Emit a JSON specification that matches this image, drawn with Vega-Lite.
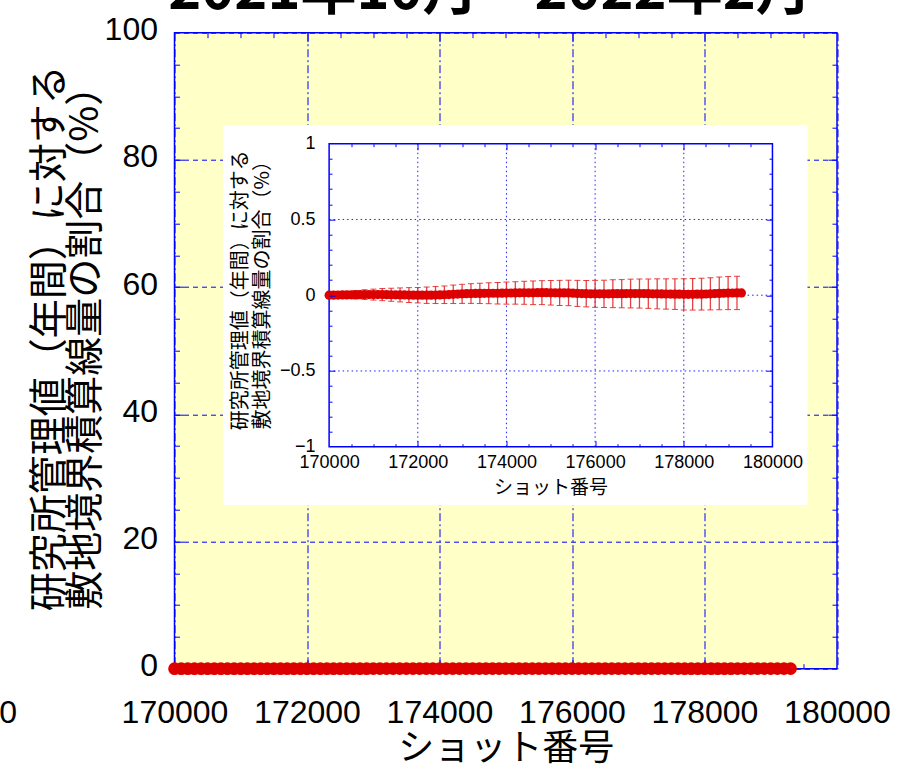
{
  "$schema": "https://vega.github.io/schema/vega-lite/v6.json",
  "width": 662.5,
  "height": 636,
  "autosize": {"type": "none"},
  "padding": {"left": 174.5, "top": 32.7, "right": 66, "bottom": 99.3},
  "background": "white",
  "config": {
    "view": {"fill": "#ffffc8", "stroke": "#0000ff", "strokeWidth": 1.5},
    "axis": {"domain": false, "zindex": 0}
  },
  "datasets": {
    "pts": [
      {"shot": 170000, "pct": 0.000, "err": 0.004},
      {"shot": 170100, "pct": 0.0005},
      {"shot": 170200, "pct": 0.001, "err": 0.016},
      {"shot": 170300, "pct": 0.0015},
      {"shot": 170400, "pct": 0.002, "err": 0.023},
      {"shot": 170500, "pct": 0.0025},
      {"shot": 170600, "pct": 0.003, "err": 0.028},
      {"shot": 170700, "pct": 0.0035},
      {"shot": 170800, "pct": 0.004, "err": 0.032},
      {"shot": 170900, "pct": 0.004},
      {"shot": 171000, "pct": 0.004, "err": 0.036},
      {"shot": 171100, "pct": 0.004},
      {"shot": 171200, "pct": 0.004, "err": 0.040},
      {"shot": 171300, "pct": 0.0035},
      {"shot": 171400, "pct": 0.003, "err": 0.043},
      {"shot": 171500, "pct": 0.0025},
      {"shot": 171600, "pct": 0.002, "err": 0.046},
      {"shot": 171700, "pct": 0.0015},
      {"shot": 171800, "pct": 0.001, "err": 0.049},
      {"shot": 171900, "pct": 0.0005},
      {"shot": 172000, "pct": 0.000, "err": 0.051},
      {"shot": 172100, "pct": 0.000},
      {"shot": 172200, "pct": 0.000, "err": 0.054},
      {"shot": 172300, "pct": 0.0005},
      {"shot": 172400, "pct": 0.001, "err": 0.056},
      {"shot": 172500, "pct": 0.002},
      {"shot": 172600, "pct": 0.003, "err": 0.058},
      {"shot": 172700, "pct": 0.0045},
      {"shot": 172800, "pct": 0.006, "err": 0.061},
      {"shot": 172900, "pct": 0.0075},
      {"shot": 173000, "pct": 0.009, "err": 0.063},
      {"shot": 173100, "pct": 0.010},
      {"shot": 173200, "pct": 0.011, "err": 0.065},
      {"shot": 173300, "pct": 0.0115},
      {"shot": 173400, "pct": 0.012, "err": 0.067},
      {"shot": 173500, "pct": 0.0125},
      {"shot": 173600, "pct": 0.013, "err": 0.069},
      {"shot": 173700, "pct": 0.013},
      {"shot": 173800, "pct": 0.013, "err": 0.071},
      {"shot": 173900, "pct": 0.0135},
      {"shot": 174000, "pct": 0.014, "err": 0.073},
      {"shot": 174100, "pct": 0.0145},
      {"shot": 174200, "pct": 0.015, "err": 0.074},
      {"shot": 174300, "pct": 0.0155},
      {"shot": 174400, "pct": 0.016, "err": 0.076},
      {"shot": 174500, "pct": 0.016},
      {"shot": 174600, "pct": 0.016, "err": 0.078},
      {"shot": 174700, "pct": 0.0165},
      {"shot": 174800, "pct": 0.017, "err": 0.079},
      {"shot": 174900, "pct": 0.0165},
      {"shot": 175000, "pct": 0.016, "err": 0.081},
      {"shot": 175100, "pct": 0.0155},
      {"shot": 175200, "pct": 0.015, "err": 0.083},
      {"shot": 175300, "pct": 0.015},
      {"shot": 175400, "pct": 0.015, "err": 0.084},
      {"shot": 175500, "pct": 0.0135},
      {"shot": 175600, "pct": 0.012, "err": 0.086},
      {"shot": 175700, "pct": 0.011},
      {"shot": 175800, "pct": 0.010, "err": 0.087},
      {"shot": 175900, "pct": 0.0095},
      {"shot": 176000, "pct": 0.009, "err": 0.089},
      {"shot": 176100, "pct": 0.009},
      {"shot": 176200, "pct": 0.009, "err": 0.090},
      {"shot": 176300, "pct": 0.0095},
      {"shot": 176400, "pct": 0.010, "err": 0.092},
      {"shot": 176500, "pct": 0.010},
      {"shot": 176600, "pct": 0.010, "err": 0.093},
      {"shot": 176700, "pct": 0.0105},
      {"shot": 176800, "pct": 0.011, "err": 0.095},
      {"shot": 176900, "pct": 0.011},
      {"shot": 177000, "pct": 0.011, "err": 0.096},
      {"shot": 177100, "pct": 0.0105},
      {"shot": 177200, "pct": 0.010, "err": 0.097},
      {"shot": 177300, "pct": 0.0095},
      {"shot": 177400, "pct": 0.009, "err": 0.099},
      {"shot": 177500, "pct": 0.0085},
      {"shot": 177600, "pct": 0.008, "err": 0.100},
      {"shot": 177700, "pct": 0.0075},
      {"shot": 177800, "pct": 0.007, "err": 0.101},
      {"shot": 177900, "pct": 0.0065},
      {"shot": 178000, "pct": 0.006, "err": 0.103},
      {"shot": 178100, "pct": 0.006},
      {"shot": 178200, "pct": 0.006, "err": 0.104},
      {"shot": 178300, "pct": 0.0065},
      {"shot": 178400, "pct": 0.007, "err": 0.105},
      {"shot": 178500, "pct": 0.008},
      {"shot": 178600, "pct": 0.009, "err": 0.106},
      {"shot": 178700, "pct": 0.0105},
      {"shot": 178800, "pct": 0.012, "err": 0.108},
      {"shot": 178900, "pct": 0.013},
      {"shot": 179000, "pct": 0.014, "err": 0.109},
      {"shot": 179100, "pct": 0.0145},
      {"shot": 179200, "pct": 0.015, "err": 0.110},
      {"shot": 179300, "pct": 0.015}
    ],
    "wbox": [{"x1": 167607, "x2": 180790, "y1": -1.385, "y2": 1.1234}],
    "frame": [{"x1": 170000, "x2": 180000, "y1": -1, "y2": 1}],
    "vgrid": [
      {"gx": 172000, "gy1": -1, "gy2": 1},
      {"gx": 174000, "gy1": -1, "gy2": 1},
      {"gx": 176000, "gy1": -1, "gy2": 1},
      {"gx": 178000, "gy1": -1, "gy2": 1}
    ],
    "hgrid": [
      {"gy": -0.5, "gx1": 170000, "gx2": 180000},
      {"gy": 0, "gx1": 170000, "gx2": 180000},
      {"gy": 0.5, "gx1": 170000, "gx2": 180000}
    ],
    "stray": [{"sx": 167490, "sy": -6.9, "t": "0"}],
    "ttl": [{"tx": 174762, "ty": 103.7, "t": "2021年10月～2022年2月"}]
  },
  "layer": [
    {
      "layer": [
        {
          "data": {"name": "pts"},
          "mark": {"type": "circle", "color": "#dd0000", "size": 160, "opacity": 1},
          "encoding": {
            "x": {"field": "shot", "type": "quantitative", "scale": {"domain": [170000, 180000], "nice": false, "zero": false},
              "axis": {"orient": "bottom", "values": [170000, 172000, 174000, 176000, 178000, 180000], "format": "d", "ticks": false,
                "labelFont": "Liberation Sans", "labelFontSize": 32, "labelColor": "black", "labelBaseline": "middle", "labelPadding": 44,
                "labelFlush": false, "labelOverlap": false,
                "grid": true, "gridColor": "#0000ff", "gridDash": [8, 3, 2, 3], "gridWidth": 1, "gridOpacity": 1,
                "title": "ショット番号", "titleFont": "Noto Sans CJK JP", "titleFontSize": 36, "titleFontWeight": "normal", "titleColor": "black",
                "titleBaseline": "middle", "titleY": 80}},
            "y": {"field": "pct", "type": "quantitative", "scale": {"domain": [0, 100], "nice": false, "zero": false},
              "axis": {"orient": "left", "values": [0, 20, 40, 60, 80, 100], "ticks": false,
                "labelFont": "Liberation Sans", "labelFontSize": 32, "labelColor": "black", "labelPadding": 17, "labelFlush": false, "labelOverlap": false, "labelOffset": -3,
                "grid": true, "gridColor": "#0000ff", "gridDash": [5, 4], "gridWidth": 1, "gridOpacity": 1,
                "title": ["研究所管理値（年間）に対する", "敷地境界積算線量の割合（%）"], "titleFont": "Noto Sans CJK JP", "titleFontSize": 39, "titleFontWeight": "normal", "titleColor": "black",
                "titleLineHeight": 36, "titleBaseline": "bottom", "titleAlign": "center", "titleX": -105.5, "titleY": 305}}
          }
        },
        {
          "data": {"name": "stray"},
          "mark": {"type": "text", "font": "Liberation Sans", "fontSize": 32, "baseline": "middle", "align": "center", "color": "black"},
          "encoding": {
            "x": {"field": "sx", "type": "quantitative", "scale": {"domain": [170000, 180000], "nice": false, "zero": false}, "axis": null},
            "y": {"field": "sy", "type": "quantitative", "scale": {"domain": [0, 100], "nice": false, "zero": false}, "axis": null},
            "text": {"field": "t"}
          }
        },
        {
          "data": {"name": "ttl"},
          "mark": {"type": "text", "font": "Noto Sans CJK JP", "fontSize": 56, "fontWeight": "bold", "baseline": "alphabetic", "align": "center", "color": "black"},
          "encoding": {
            "x": {"field": "tx", "type": "quantitative", "scale": {"domain": [170000, 180000], "nice": false, "zero": false}, "axis": null},
            "y": {"field": "ty", "type": "quantitative", "scale": {"domain": [0, 100], "nice": false, "zero": false}, "axis": null},
            "text": {"field": "t"}
          }
        },
        {
          "data": {"name": "pts"},
          "mark": {"type": "point", "opacity": 0},
          "encoding": {
            "x": {"field": "shot", "type": "quantitative", "scale": {"domain": [170000, 180000], "nice": false, "zero": false},
              "axis": {"orient": "bottom", "values": [172000, 174000, 176000, 178000], "labels": false, "title": null, "grid": false, "tickSize": -9, "tickColor": "#0000ff", "tickWidth": 1}},
            "y": {"field": "pct", "type": "quantitative", "scale": {"domain": [0, 100], "nice": false, "zero": false},
              "axis": {"orient": "left", "values": [20, 40, 60, 80], "labels": false, "title": null, "grid": false, "tickSize": -9, "tickColor": "#0000ff", "tickWidth": 1}}
          }
        },
        {
          "data": {"name": "pts"},
          "mark": {"type": "point", "opacity": 0},
          "encoding": {
            "x": {"field": "shot", "type": "quantitative", "scale": {"domain": [170000, 180000], "nice": false, "zero": false},
              "axis": {"orient": "bottom", "values": [170500, 171000, 171500, 172500, 173000, 173500, 174500, 175000, 175500, 176500, 177000, 177500, 178500, 179000, 179500], "labels": false, "title": null, "grid": false, "tickSize": -5, "tickColor": "#0000ff", "tickWidth": 1}},
            "y": {"field": "pct", "type": "quantitative", "scale": {"domain": [0, 100], "nice": false, "zero": false},
              "axis": {"orient": "left", "values": [5, 10, 15, 25, 30, 35, 45, 50, 55, 65, 70, 75, 85, 90, 95], "labels": false, "title": null, "grid": false, "tickSize": -5, "tickColor": "#0000ff", "tickWidth": 1}}
          }
        },
        {
          "data": {"name": "pts"},
          "mark": {"type": "point", "opacity": 0},
          "encoding": {
            "x": {"field": "shot", "type": "quantitative", "scale": {"domain": [170000, 180000], "nice": false, "zero": false},
              "axis": {"orient": "top", "values": [172000, 174000, 176000, 178000], "labels": false, "title": null, "grid": false, "tickSize": -9, "tickColor": "#0000ff", "tickWidth": 1}},
            "y": {"field": "pct", "type": "quantitative", "scale": {"domain": [0, 100], "nice": false, "zero": false},
              "axis": {"orient": "right", "values": [20, 40, 60, 80], "labels": false, "title": null, "grid": false, "tickSize": -9, "tickColor": "#0000ff", "tickWidth": 1}}
          }
        },
        {
          "data": {"name": "pts"},
          "mark": {"type": "point", "opacity": 0},
          "encoding": {
            "x": {"field": "shot", "type": "quantitative", "scale": {"domain": [170000, 180000], "nice": false, "zero": false},
              "axis": {"orient": "top", "values": [170500, 171000, 171500, 172500, 173000, 173500, 174500, 175000, 175500, 176500, 177000, 177500, 178500, 179000, 179500], "labels": false, "title": null, "grid": false, "tickSize": -5, "tickColor": "#0000ff", "tickWidth": 1}},
            "y": {"field": "pct", "type": "quantitative", "scale": {"domain": [0, 100], "nice": false, "zero": false},
              "axis": {"orient": "right", "values": [5, 10, 15, 25, 30, 35, 45, 50, 55, 65, 70, 75, 85, 90, 95], "labels": false, "title": null, "grid": false, "tickSize": -5, "tickColor": "#0000ff", "tickWidth": 1}}
          }
        }
      ],
      "resolve": {"axis": {"x": "independent", "y": "independent"}}
    },
    {
      "layer": [
        {
          "data": {"name": "wbox"},
          "mark": {"type": "rect", "fill": "white", "stroke": null},
          "encoding": {
            "x": {"field": "x1", "type": "quantitative", "scale": {"domain": [166512.4, 181456], "nice": false, "zero": false}, "axis": null},
            "x2": {"field": "x2"},
            "y": {"field": "y1", "type": "quantitative", "scale": {"domain": [-2.4653, 1.7327], "nice": false, "zero": false}, "axis": null},
            "y2": {"field": "y2"}
          }
        },
        {
          "data": {"name": "vgrid"},
          "mark": {"type": "rule", "color": "#2020ff", "strokeDash": [1.5, 3], "strokeWidth": 1},
          "encoding": {
            "x": {"field": "gx", "type": "quantitative", "scale": {"domain": [166512.4, 181456], "nice": false, "zero": false}, "axis": null},
            "y": {"field": "gy1", "type": "quantitative", "scale": {"domain": [-2.4653, 1.7327], "nice": false, "zero": false}, "axis": null},
            "y2": {"field": "gy2"}
          }
        },
        {
          "data": {"name": "hgrid"},
          "mark": {"type": "rule", "color": "#2020ff", "strokeDash": [1.5, 3], "strokeWidth": 1},
          "encoding": {
            "y": {"field": "gy", "type": "quantitative", "scale": {"domain": [-2.4653, 1.7327], "nice": false, "zero": false}, "axis": null},
            "x": {"field": "gx1", "type": "quantitative", "scale": {"domain": [166512.4, 181456], "nice": false, "zero": false}, "axis": null},
            "x2": {"field": "gx2"}
          }
        },
        {
          "data": {"name": "frame"},
          "mark": {"type": "rect", "fill": null, "stroke": "#0000ff", "strokeWidth": 1.5},
          "encoding": {
            "x": {"field": "x1", "type": "quantitative", "scale": {"domain": [166512.4, 181456], "nice": false, "zero": false}, "axis": null},
            "x2": {"field": "x2"},
            "y": {"field": "y1", "type": "quantitative", "scale": {"domain": [-2.4653, 1.7327], "nice": false, "zero": false}, "axis": null},
            "y2": {"field": "y2"}
          }
        },
        {
          "data": {"name": "pts"},
          "transform": [{"filter": "isValid(datum.err)"}],
          "mark": {"type": "errorbar", "color": "#e22020", "opacity": 0.85, "ticks": {"size": 6}, "rule": {"strokeWidth": 1.3}},
          "encoding": {
            "x": {"field": "shot", "type": "quantitative", "scale": {"domain": [166512.4, 181456], "nice": false, "zero": false}, "axis": null},
            "y": {"field": "pct", "type": "quantitative", "scale": {"domain": [-2.4653, 1.7327], "nice": false, "zero": false}, "axis": null},
            "yError": {"field": "err"}
          }
        },
        {
          "data": {"name": "pts"},
          "mark": {"type": "circle", "color": "#dd0000", "size": 85, "opacity": 1},
          "encoding": {
            "x": {"field": "shot", "type": "quantitative", "scale": {"domain": [166512.4, 181456], "nice": false, "zero": false},
              "axis": {"orient": "bottom", "offset": -222, "zindex": 1, "values": [170000, 172000, 174000, 176000, 178000, 180000], "format": "d", "ticks": false, "grid": false,
                "labelFont": "Liberation Sans", "labelFontSize": 18, "labelColor": "black", "labelBaseline": "middle", "labelPadding": 16, "labelFlush": false, "labelOverlap": false,
                "title": "ショット番号", "titleFont": "Noto Sans CJK JP", "titleFontSize": 19, "titleFontWeight": "normal", "titleColor": "black", "titleBaseline": "middle", "titleX": 376, "titleY": 41}},
            "y": {"field": "pct", "type": "quantitative", "scale": {"domain": [-2.4653, 1.7327], "nice": false, "zero": false},
              "axis": {"orient": "left", "offset": -154.5, "zindex": 1, "values": [-1, -0.5, 0, 0.5, 1], "format": "~g", "ticks": false, "grid": false,
                "labelFont": "Liberation Sans", "labelFontSize": 18, "labelColor": "black", "labelPadding": 14, "labelFlush": false, "labelOverlap": false,
                "title": ["研究所管理値（年間）に対する", "敷地境界積算線量の割合（%）"], "titleFont": "Noto Sans CJK JP", "titleFontSize": 20, "titleFontWeight": "normal", "titleColor": "black",
                "titleLineHeight": 22, "titleBaseline": "bottom", "titleAlign": "center", "titleX": -79, "titleY": 257}}
          }
        },
        {
          "data": {"name": "pts"},
          "mark": {"type": "point", "opacity": 0},
          "encoding": {
            "x": {"field": "shot", "type": "quantitative", "scale": {"domain": [166512.4, 181456], "nice": false, "zero": false},
              "axis": {"orient": "bottom", "offset": -222, "zindex": 1, "values": [172000, 174000, 176000, 178000], "labels": false, "title": null, "grid": false, "tickSize": -6, "tickColor": "#0000ff", "tickWidth": 1}},
            "y": {"field": "pct", "type": "quantitative", "scale": {"domain": [-2.4653, 1.7327], "nice": false, "zero": false},
              "axis": {"orient": "left", "offset": -154.5, "zindex": 1, "values": [-0.5, 0, 0.5], "labels": false, "title": null, "grid": false, "tickSize": -6, "tickColor": "#0000ff", "tickWidth": 1}}
          }
        },
        {
          "data": {"name": "pts"},
          "mark": {"type": "point", "opacity": 0},
          "encoding": {
            "x": {"field": "shot", "type": "quantitative", "scale": {"domain": [166512.4, 181456], "nice": false, "zero": false},
              "axis": {"orient": "bottom", "offset": -222, "zindex": 1, "values": [170500, 171000, 171500, 172500, 173000, 173500, 174500, 175000, 175500, 176500, 177000, 177500, 178500, 179000, 179500], "labels": false, "title": null, "grid": false, "tickSize": -3, "tickColor": "#0000ff", "tickWidth": 1}},
            "y": {"field": "pct", "type": "quantitative", "scale": {"domain": [-2.4653, 1.7327], "nice": false, "zero": false},
              "axis": {"orient": "left", "offset": -154.5, "zindex": 1, "values": [-0.9, -0.8, -0.7, -0.6, -0.4, -0.3, -0.2, -0.1, 0.1, 0.2, 0.3, 0.4, 0.6, 0.7, 0.8, 0.9], "labels": false, "title": null, "grid": false, "tickSize": -3, "tickColor": "#0000ff", "tickWidth": 1}}
          }
        },
        {
          "data": {"name": "pts"},
          "mark": {"type": "point", "opacity": 0},
          "encoding": {
            "x": {"field": "shot", "type": "quantitative", "scale": {"domain": [166512.4, 181456], "nice": false, "zero": false},
              "axis": {"orient": "top", "offset": -111, "zindex": 1, "values": [172000, 174000, 176000, 178000], "labels": false, "title": null, "grid": false, "tickSize": -6, "tickColor": "#0000ff", "tickWidth": 1}},
            "y": {"field": "pct", "type": "quantitative", "scale": {"domain": [-2.4653, 1.7327], "nice": false, "zero": false},
              "axis": {"orient": "right", "offset": -65, "zindex": 1, "values": [-0.5, 0, 0.5], "labels": false, "title": null, "grid": false, "tickSize": -6, "tickColor": "#0000ff", "tickWidth": 1}}
          }
        },
        {
          "data": {"name": "pts"},
          "mark": {"type": "point", "opacity": 0},
          "encoding": {
            "x": {"field": "shot", "type": "quantitative", "scale": {"domain": [166512.4, 181456], "nice": false, "zero": false},
              "axis": {"orient": "top", "offset": -111, "zindex": 1, "values": [170500, 171000, 171500, 172500, 173000, 173500, 174500, 175000, 175500, 176500, 177000, 177500, 178500, 179000, 179500], "labels": false, "title": null, "grid": false, "tickSize": -3, "tickColor": "#0000ff", "tickWidth": 1}},
            "y": {"field": "pct", "type": "quantitative", "scale": {"domain": [-2.4653, 1.7327], "nice": false, "zero": false},
              "axis": {"orient": "right", "offset": -65, "zindex": 1, "values": [-0.9, -0.8, -0.7, -0.6, -0.4, -0.3, -0.2, -0.1, 0.1, 0.2, 0.3, 0.4, 0.6, 0.7, 0.8, 0.9], "labels": false, "title": null, "grid": false, "tickSize": -3, "tickColor": "#0000ff", "tickWidth": 1}}
          }
        }
      ],
      "resolve": {"axis": {"x": "independent", "y": "independent"}}
    }
  ],
  "resolve": {"scale": {"x": "independent", "y": "independent"}, "axis": {"x": "independent", "y": "independent"}}
}
